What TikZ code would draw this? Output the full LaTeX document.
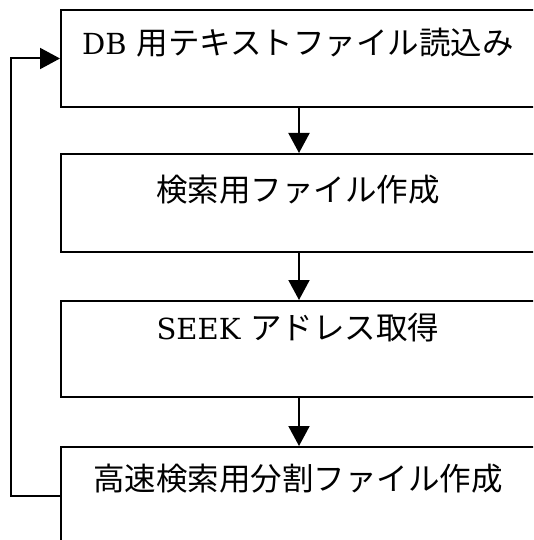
\documentclass[tikz,border=0pt]{standalone}
\usepackage{fontspec}
\setmainfont{DejaVu Serif}
\newfontfamily\jp{Noto Sans CJK JP}
\usetikzlibrary{arrows.meta}
\begin{document}
\begin{tikzpicture}[x=1pt,y=-1pt,
  box/.style={draw,line width=2pt,minimum width=476pt,inner sep=0pt,anchor=north west},
  lbl/.style={anchor=base,font=\fontsize{31.5}{36}\selectfont,inner sep=0pt},
  arr/.style={line width=2pt,-{Triangle[width=21pt,length=20pt]}}]
\useasboundingbox (0,0) rectangle (533,540);
\clip (0,0) rectangle (533,540);
\node[box,minimum height=97pt] (b1) at (60,9) {};
\node[box,minimum height=98pt] (b2) at (60,153) {};
\node[box,minimum height=96pt] (b3) at (60,300) {};
\node[box,minimum height=97pt] (b4) at (60,446) {};
\node[lbl] (t1) at (298,55) {{\fontsize{29}{36}\selectfont DB} {\jp 用テキストファイル読込み}};
\node[lbl] (t2) at (298,201) {\jp 検索用ファイル作成};
\node[lbl] (t3) at (298,339) {{\fontsize{29}{36}\selectfont SEEK} {\jp アドレス取得}};
\node[lbl] (t4) at (298,490) {\jp 高速検索用分割ファイル作成};
\draw[arr] (b1.south) -- (b2.north);
\draw[arr] (b2.south) -- (b3.north);
\draw[arr] (b3.south) -- (b4.north);
\draw[arr] (b4.west) -- ++(-49,0) |- (b1.west);
\end{tikzpicture}
\end{document}
